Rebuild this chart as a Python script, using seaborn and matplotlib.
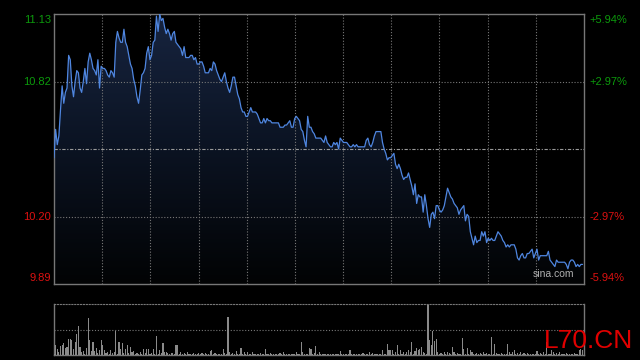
import numpy as np
import pandas as pd
import matplotlib
matplotlib.use("Agg")
import matplotlib.pyplot as plt
import seaborn as sns
from matplotlib.colors import LinearSegmentedColormap

# ----------------------------
# Data
# ----------------------------
prev_close = 10.51
left_ticks = [11.13, 10.82, 10.20, 9.89]
right_labels = ["+5.94%", "+2.97%", "-2.97%", "-5.94%"]
tick_colors = ["#0c9a0c", "#0c9a0c", "#dd1111", "#dd1111"]

price_part1 = [
    10.47, 10.60, 10.53, 10.57, 10.69, 10.80, 10.72, 10.77, 10.79, 10.94,
    10.92, 10.80, 10.75, 10.82, 10.87, 10.86, 10.79, 10.77, 10.82, 10.88,
    10.81, 10.91, 10.95, 10.92, 10.88, 10.87, 10.85, 10.92, 10.79, 10.89,
    10.88, 10.88, 10.87, 10.85, 10.84, 10.87, 10.86, 10.84, 11.00, 11.05,
    11.02, 11.00, 11.00, 11.06, 11.00, 10.98, 10.94, 10.90, 10.88, 10.83,
    10.80, 10.75, 10.72, 10.78, 10.85, 10.86, 10.88, 10.95, 10.98, 10.92,
    10.94, 11.00, 11.01, 11.12, 11.05, 11.13, 11.10, 11.11, 11.07, 11.04,
    11.06, 11.04, 11.01, 11.04, 11.05, 11.00, 10.99, 10.98, 10.97, 10.94,
    10.98, 10.93, 10.93,
]
price_part2 = [
    10.93, 10.94, 10.94, 10.92, 10.93, 10.90, 10.90, 10.91, 10.91, 10.89,
    10.86, 10.86, 10.86, 10.88, 10.87, 10.91, 10.90, 10.87, 10.85, 10.83,
    10.82, 10.84, 10.86, 10.82, 10.79, 10.77, 10.80, 10.84, 10.84, 10.80,
    10.76, 10.74, 10.70, 10.68, 10.68, 10.66, 10.66, 10.68, 10.70, 10.68,
    10.68, 10.68, 10.67, 10.65, 10.63, 10.63, 10.65, 10.63, 10.65, 10.64,
    10.64, 10.63, 10.63, 10.63, 10.63, 10.63, 10.61, 10.61, 10.61, 10.62,
    10.62, 10.63, 10.64, 10.61, 10.61, 10.65, 10.66, 10.65, 10.64, 10.60,
    10.59, 10.55, 10.52, 10.66, 10.61, 10.61, 10.59, 10.58, 10.56, 10.56,
    10.56,
]
price_part3 = [
    10.56, 10.55, 10.54, 10.57, 10.54, 10.53, 10.52, 10.52, 10.54, 10.53,
    10.54, 10.51, 10.56, 10.55, 10.54, 10.54, 10.54, 10.53, 10.52, 10.52,
    10.53, 10.52, 10.53, 10.52, 10.52, 10.52, 10.52, 10.52, 10.55, 10.56,
    10.53, 10.52, 10.54, 10.57, 10.59, 10.59, 10.59, 10.59, 10.54, 10.51,
    10.49, 10.46, 10.47, 10.47, 10.48, 10.49, 10.44, 10.42, 10.44, 10.42,
    10.39, 10.37, 10.38, 10.38, 10.40, 10.37, 10.34, 10.30, 10.35, 10.26,
    10.30, 10.29, 10.29, 10.22, 10.30, 10.25, 10.19, 10.15, 10.21, 10.22,
    10.19, 10.25, 10.25, 10.23, 10.22, 10.23, 10.25, 10.29, 10.33, 10.31,
    10.29,
]
price_part4 = [
    10.28, 10.26, 10.25, 10.24, 10.21, 10.23, 10.24, 10.25, 10.18, 10.21,
    10.20, 10.13, 10.10, 10.07, 10.11, 10.08, 10.09, 10.09, 10.13, 10.11,
    10.13, 10.08, 10.10, 10.09, 10.10, 10.09, 10.09, 10.11, 10.13, 10.12,
    10.11, 10.09, 10.08, 10.06, 10.07, 10.06, 10.07, 10.07, 10.07, 10.05,
    10.01, 10.00, 10.02, 10.03, 10.01, 10.01, 10.03, 10.03, 10.04, 10.05,
    10.01, 10.03, 10.05, 10.00, 10.02, 10.02, 10.02, 10.02, 10.02, 10.04,
    10.00, 9.99, 9.98, 9.97, 10.00, 9.99, 9.99, 9.99, 9.99, 9.99,
    9.98, 9.96, 9.99, 10.00, 10.00, 9.99, 9.97, 9.98, 9.97, 9.98,
    9.98,
]

volume = [
    12, 100, 60, 30, 90, 100, 117, 73, 83, 160,
    157, 150, 60, 133, 210, 290, 83, 33, 40, 12,
    70, 370, 150, 40, 133, 43, 70, 23, 50, 150,
    100, 50, 23, 33, 10, 50, 23, 33, 233, 12,
    133, 60, 123, 23, 60, 100, 23, 77, 33, 40,
    10, 23, 8, 33, 10, 60, 23, 60, 60, 9,
    23, 60, 10, 190, 12, 50, 23, 123, 33, 33,
    23, 8, 23, 17, 9, 100, 100, 10, 33, 8,
    17, 7, 27, 8, 6, 9, 17, 7, 8, 17,
    6, 17, 8, 17, 7, 9, 40, 50, 8, 17,
    7, 9, 6, 10, 57, 23, 8, 380, 33, 9,
    23, 7, 40, 8, 9, 67, 8, 27, 7, 33,
    8, 6, 27, 9, 7, 8, 6, 17, 8, 7,
    60, 9, 7, 17, 8, 6, 9, 7, 8, 17,
    6, 27, 8, 7, 9, 6, 8, 7, 9, 27,
    8, 10, 130, 27, 8, 9, 12, 67, 60, 10,
    23, 90, 9, 33, 8, 7, 9, 6, 8, 7,
    9, 6, 8, 7, 9, 8, 40, 7, 9, 6,
    8, 9, 50, 7, 8, 6, 9, 8, 7, 9,
    23, 8, 6, 9, 33, 7, 23, 8, 6, 9,
    8, 10, 50, 8, 9, 110, 50, 50, 50, 10,
    33, 100, 9, 50, 8, 33, 9, 33, 50, 33,
    133, 9, 40, 67, 50, 60, 83, 33, 23, 12,
    500, 150, 100, 240, 140, 160, 33, 12, 23, 9,
    33, 8, 33, 23, 9, 77, 33, 8, 23, 7,
    10, 167, 57, 12, 67, 9, 50, 33, 8, 7,
    23, 9, 23, 8, 33, 7, 23, 9, 10, 177,
    12, 110, 23, 8, 9, 23, 7, 8, 9, 110,
    33, 8, 33, 50, 9, 23, 8, 33, 7, 23,
    8, 17, 9, 7, 8, 6, 9, 40, 8, 17,
    7, 33, 9, 133, 12, 8, 50, 33, 9, 23,
    8, 33, 7, 9, 8, 23, 6, 9, 8, 7,
    17, 9, 8, 50, 60, 50,
]

prices = price_part1 + price_part2 + price_part3 + price_part4
df = pd.DataFrame({"t": np.arange(len(prices)), "price": prices})
vol_df = pd.DataFrame({"t": np.arange(len(volume)), "volume": volume})

y_low, y_high = left_ticks[-1], left_ticks[0]
x_max = len(prices) - 1 + 0.9

# ----------------------------
# Style
# ----------------------------
sns.set_style("dark")
plt.rcParams["font.family"] = ["Liberation Sans", "DejaVu Sans"]

fig = plt.figure(figsize=(6.4, 3.6), dpi=100, facecolor="black")
ax = fig.add_axes([0.084375, 0.21111, 0.828125, 0.75])
axv = fig.add_axes([0.084375, 0.01389, 0.828125, 0.14167])

grid_color = "#777777"
dot_style = (0, (1, 1.6))

# ----------------------------
# Price panel
# ----------------------------
ax.set_facecolor("black")
poly = ax.fill_between(df["t"], df["price"], y_low, color="none", lw=0)
grad = np.linspace(0, 1, 256).reshape(-1, 1)
cmap = LinearSegmentedColormap.from_list("navy", ["#020304", "#0b1322", "#17243f"])
im = ax.imshow(grad, extent=[0, x_max, y_low, y_high], origin="lower",
               aspect="auto", cmap=cmap, zorder=1)
im.set_clip_path(poly.get_paths()[0], transform=ax.transData)

for k in range(1, 11):
    ax.axvline(k * x_max / 11, color=grid_color, lw=0.8, ls=dot_style, zorder=2)
for v in [left_ticks[1], left_ticks[2]]:
    ax.axhline(v, color=grid_color, lw=0.8, ls=dot_style, zorder=2)
ax.axhline(prev_close, color="#9a9a9a", lw=0.8, ls=(0, (3, 1.5, 1, 1.5)), zorder=2)

sns.lineplot(data=df, x="t", y="price", ax=ax, color="#4f86e0", lw=0.9, zorder=3)

ax.set_xlim(0, x_max)
ax.set_ylim(y_low, y_high)
ax.set_xticks([])
ax.set_yticks([])
ax.set_xlabel("")
ax.set_ylabel("")
for s in ax.spines.values():
    s.set_visible(True)
    s.set_color(grid_color)
    s.set_linewidth(1)

offsets = [-6, 0, 0, 6]
for val, lab, col, dy in zip(left_ticks, right_labels, tick_colors, offsets):
    ax.annotate(f"{val:.2f}", xy=(0, val), xycoords=("axes fraction", "data"),
                xytext=(-2, dy * 0.72), textcoords="offset points",
                ha="right", va="center", color=col, fontsize=8)
    ax.annotate(lab, xy=(1, val), xycoords=("axes fraction", "data"),
                xytext=(4, dy * 0.72), textcoords="offset points",
                ha="left", va="center", color=col, fontsize=8)

ax.text(0.982, 0.02, "sina.com", transform=ax.transAxes, ha="right", va="bottom",
        color="#b0b0b0", fontsize=7.5, zorder=4)

# ----------------------------
# Volume panel
# ----------------------------
axv.set_facecolor("black")
axv.bar(vol_df["t"], vol_df["volume"], width=0.7, color="#8a8a8a", lw=0, zorder=3)
axv.axhline(252, color=grid_color, lw=0.8, ls=dot_style, zorder=2)
axv.set_xlim(0, x_max)
axv.set_ylim(0, 505)
axv.set_xticks([])
axv.set_yticks([])
for side in ["left", "right", "bottom"]:
    axv.spines[side].set_visible(True)
    axv.spines[side].set_color(grid_color)
    axv.spines[side].set_linewidth(1)
axv.spines["top"].set_visible(True)
axv.spines["top"].set_color(grid_color)
axv.spines["top"].set_linestyle(dot_style)
axv.spines["top"].set_linewidth(0.8)

fig.text(544 / 640, 1 - 348 / 360, "L70.CN", color="#e00000", fontsize=19,
         ha="left", va="baseline")

fig.savefig("out.png", dpi=100, facecolor="black")
